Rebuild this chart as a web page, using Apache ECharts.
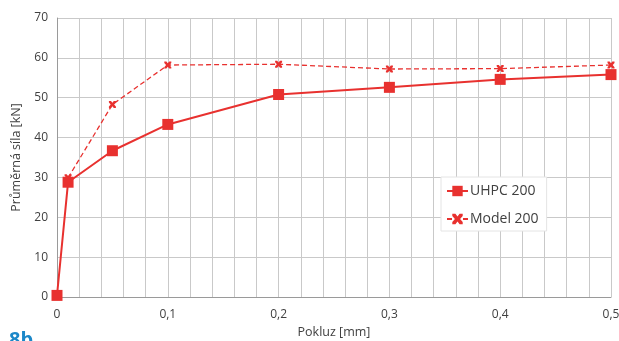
<!DOCTYPE html>
<html>
<head>
<meta charset="utf-8">
<script src="https://cdn.jsdelivr.net/npm/echarts@6/dist/echarts.min.js"></script>
<style>
  html, body { margin: 0; padding: 0; background: #fff; }
  #main { width: 619px; height: 341px; }
</style>
</head>
<body>
<div id="main"></div>
<script>
// Pokluz [mm] a průměrná síla [kN]
const uhpcX = [0, 0.01, 0.05, 0.1, 0.2, 0.3, 0.4, 0.5];
const uhpcY = [0.4, 28.8, 36.7, 43.3, 50.8, 52.6, 54.6, 55.8];
const modelX = [0.01, 0.05, 0.1, 0.2, 0.3, 0.4, 0.5];
const modelY = [29.9, 48.3, 58.2, 58.4, 57.2, 57.3, 58.2];
const seriesNames = ["UHPC 200", "Model 200"];

const red = "#e8312f";
const textColor = "#404040";
const xMark = "path://M0,0L3,0L5,2.5L7,0L10,0L10,2L7.5,5L10,8L10,10L7,10L5,7.5L3,10L0,10L0,8L2.5,5L0,2Z";

let myChart = echarts.init(document.getElementById("main"));
myChart.setOption({
  animation: false,
  textStyle: { fontFamily: "Open Sans", color: textColor },
  grid: { left: 57, right: 8, top: 18, bottom: 44, outerBoundsMode: "none" },
  legend: {
    orient: "vertical",
    left: 441,
    top: 177,
    padding: [7, 8, 5, 5],
    itemGap: 14,
    itemWidth: 21,
    itemHeight: 13,
    backgroundColor: "#fff",
    borderColor: "#e4e4e4",
    borderWidth: 1,
    textStyle: { fontSize: 14, color: textColor, padding: [0, 0, 0, -3] },
    data: seriesNames,
  },
  xAxis: {
    type: "value",
    min: 0,
    max: 0.5,
    interval: 0.1,
    name: "Pokluz [mm]",
    nameLocation: "middle",
    nameGap: 27,
    nameTextStyle: { fontSize: 12.5, color: textColor },
    axisLine: { lineStyle: { color: "#9a9a9a" } },
    axisTick: { show: false },
    axisLabel: {
      fontSize: 12,
      color: textColor,
      margin: 12,
      formatter: (v) => String(Math.round(v * 10) / 10).replace(".", ","),
    },
    splitLine: { lineStyle: { color: "#c9c9c9" } },
    minorTick: { show: false, splitNumber: 5 },
    minorSplitLine: { show: true, lineStyle: { color: "#c9c9c9" } },
  },
  yAxis: {
    type: "value",
    min: 0,
    max: 70,
    interval: 10,
    name: "Průměrná síla [kN]",
    nameLocation: "middle",
    nameGap: 31,
    nameTextStyle: { fontSize: 12.5, color: textColor },
    axisLine: { show: true, lineStyle: { color: "#9a9a9a" } },
    axisTick: { show: false },
    axisLabel: { fontSize: 12, color: textColor, margin: 9 },
    splitLine: { lineStyle: { color: "#c9c9c9" } },
  },
  series: [
    {
      name: seriesNames[0],
      type: "line",
      data: uhpcX.map((x, i) => [x, uhpcY[i]]),
      symbol: "rect",
      symbolSize: 11,
      showAllSymbol: true,
      color: red,
      lineStyle: { width: 2, color: red },
      itemStyle: { color: red },
      z: 3,
    },
    {
      name: seriesNames[1],
      type: "line",
      data: modelX.map((x, i) => [x, modelY[i]]),
      symbol: xMark,
      symbolSize: 7,
      showAllSymbol: true,
      color: red,
      lineStyle: { width: 1.3, type: [5, 3], color: red },
      itemStyle: { color: red },
      z: 2,
    },
  ],
  graphic: [
    {
      type: "text",
      left: 9,
      top: 330,
      style: {
        text: "8b",
        fill: "#1b87c8",
        font: "bold 20px 'Open Sans'",
      },
    },
  ],
});
</script>
</body>
</html>
